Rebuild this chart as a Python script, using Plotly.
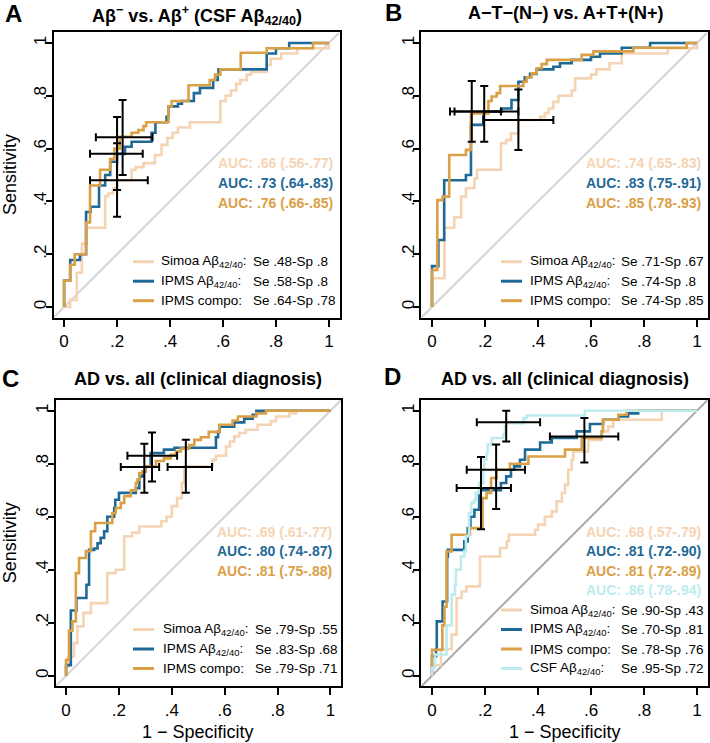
import plotly.graph_objects as go

W, H = 710, 743
FONT = "Liberation Sans, Arial, Helvetica, sans-serif"
C_SIMOA = "#F5D4B4"
C_IPMS = "#1F6996"
C_COMPO = "#DAA046"
C_CSF = "#BEEBEE"

TICK_VALS = [0, 0.2, 0.4, 0.6, 0.8, 1]
TICK_TEXT = ["0", ".2", ".4", ".6", ".8", "1"]

PANEL_TITLES = ["A\u03b2<sup>\u2212</sup> vs. A\u03b2<sup>+</sup> (CSF A\u03b2<sub>42/40</sub>)",
                "A\u2212T\u2212(N\u2212) vs. A+T+(N+)",
                "AD vs. all (clinical diagnosis)",
                "AD vs. all (clinical diagnosis)"]
PANEL_LETTERS = ["A", "B", "C", "D"]

SERIES_NAMES = ["Simoa A\u03b2<sub>42/40</sub>:", "IPMS A\u03b2<sub>42/40</sub>:", "IPMS compo:", "CSF A\u03b2<sub>42/40</sub>:"]

# ---------------- Panel A ----------------
A_SIMOA_FPR = [0, 0, 0.023, 0.048, 0.067, 0.085, 0.155, 0.167, 0.185, 0.2, 0.255, 0.27, 0.30, 0.343, 0.368, 0.39, 0.41, 0.43, 0.475, 0.59, 0.61, 0.63, 0.65, 0.665, 0.69, 0.705, 0.765, 0.78, 0.82, 0.88, 1.0]
A_SIMOA_TPR = [0, 0, 0.027, 0.13, 0.24, 0.30, 0.42, 0.43, 0.45, 0.48, 0.52, 0.53, 0.545, 0.576, 0.614, 0.64, 0.66, 0.68, 0.70, 0.78, 0.80, 0.82, 0.845, 0.86, 0.88, 0.89, 0.917, 0.94, 0.96, 0.98, 1.0]
A_IPMS_FPR = [0, 0, 0.023, 0.06, 0.083, 0.10, 0.132, 0.155, 0.174, 0.20, 0.23, 0.255, 0.33, 0.345, 0.387, 0.394, 0.43, 0.445, 0.49, 0.513, 0.563, 0.58, 0.583, 0.765, 0.80, 0.85, 1.0]
A_IPMS_TPR = [0, 0.10, 0.178, 0.20, 0.36, 0.38, 0.46, 0.50, 0.55, 0.58, 0.607, 0.626, 0.66, 0.70, 0.72, 0.76, 0.77, 0.78, 0.81, 0.83, 0.86, 0.88, 0.90, 0.96, 0.98, 1.0, 1.0]
A_COMPO_FPR = [0, 0, 0.023, 0.04, 0.083, 0.098, 0.136, 0.174, 0.19, 0.21, 0.255, 0.28, 0.30, 0.31, 0.394, 0.406, 0.47, 0.55, 0.57, 0.59, 0.667, 0.765, 0.94, 1.0]
A_COMPO_TPR = [0, 0.10, 0.16, 0.20, 0.32, 0.46, 0.52, 0.56, 0.60, 0.645, 0.66, 0.67, 0.685, 0.70, 0.76, 0.78, 0.84, 0.86, 0.88, 0.90, 0.963, 0.98, 1.0, 1.0]
A_AUC = ["AUC: .66 (.56-.77)", "AUC: .73 (.64-.83)", "AUC: .76 (.66-.85)"]
A_SESP = ["Se .48-Sp .8", "Se .58-Sp .8", "Se .64-Sp .78"]
A_CI_X = [0.20, 0.20, 0.221]
A_CI_Y = [0.48, 0.58, 0.643]
A_CI_XLO = [0.098, 0.098, 0.12]
A_CI_XHI = [0.316, 0.297, 0.334]
A_CI_YLO = [0.342, 0.443, 0.50]
A_CI_YHI = [0.62, 0.72, 0.784]

# ---------------- Panel B ----------------
B_SIMOA_FPR = [0, 0, 0.047, 0.084, 0.11, 0.128, 0.16, 0.17, 0.26, 0.28, 0.298, 0.326, 0.408, 0.426, 0.44, 0.458, 0.477, 0.527, 0.54, 0.60, 0.62, 0.67, 0.716, 0.89, 1.0]
B_SIMOA_TPR = [0, 0.109, 0.30, 0.34, 0.418, 0.45, 0.487, 0.52, 0.62, 0.632, 0.657, 0.708, 0.72, 0.735, 0.752, 0.777, 0.80, 0.82, 0.866, 0.88, 0.90, 0.923, 0.96, 0.98, 1.0]
B_IPMS_FPR = [0, 0, 0.024, 0.046, 0.128, 0.147, 0.194, 0.263, 0.30, 0.326, 0.35, 0.37, 0.395, 0.458, 0.483, 0.527, 0.60, 0.634, 0.716, 0.823, 1.0]
B_IPMS_TPR = [0, 0.155, 0.254, 0.48, 0.50, 0.69, 0.74, 0.752, 0.784, 0.853, 0.87, 0.883, 0.90, 0.91, 0.923, 0.936, 0.948, 0.96, 0.982, 1.0, 1.0]
B_COMPO_FPR = [0, 0, 0.02, 0.04, 0.065, 0.128, 0.147, 0.213, 0.225, 0.244, 0.257, 0.345, 0.357, 0.376, 0.395, 0.414, 0.433, 0.565, 0.609, 0.76, 0.961, 1.0]
B_COMPO_TPR = [0, 0.14, 0.405, 0.418, 0.576, 0.595, 0.733, 0.78, 0.797, 0.81, 0.837, 0.853, 0.87, 0.885, 0.904, 0.92, 0.936, 0.955, 0.968, 0.982, 1.0, 1.0]
B_AUC = ["AUC: .74 (.65-.83)", "AUC: .83 (.75-.91)", "AUC: .85 (.78-.93)"]
B_SESP = ["Se .71-Sp .67", "Se .74-Sp .8", "Se .74-Sp .85"]
B_CI_X = [0.326, 0.197, 0.15]
B_CI_Y = [0.708, 0.74, 0.74]
B_CI_XLO = [0.194, 0.085, 0.068]
B_CI_XHI = [0.458, 0.326, 0.26]
B_CI_YLO = [0.595, 0.626, 0.626]
B_CI_YHI = [0.824, 0.837, 0.856]

# ---------------- Panel C ----------------
C_SIMOA_FPR = [0, 0, 0.008, 0.03, 0.043, 0.066, 0.094, 0.156, 0.188, 0.22, 0.25, 0.277, 0.36, 0.38, 0.40, 0.42, 0.438, 0.447, 0.554, 0.567, 0.605, 0.62, 0.636, 0.655, 0.68, 0.725, 0.775, 0.794, 0.845, 0.87, 1.0]
C_SIMOA_TPR = [0, 0.035, 0.073, 0.123, 0.186, 0.237, 0.274, 0.387, 0.40, 0.526, 0.54, 0.563, 0.583, 0.60, 0.64, 0.67, 0.727, 0.79, 0.815, 0.83, 0.865, 0.884, 0.903, 0.916, 0.928, 0.947, 0.96, 0.978, 0.99, 1.0, 1.0]
C_IPMS_FPR = [0, 0, 0.018, 0.039, 0.077, 0.087, 0.106, 0.119, 0.131, 0.144, 0.156, 0.182, 0.186, 0.2, 0.264, 0.277, 0.29, 0.30, 0.32, 0.37, 0.41, 0.567, 0.575, 0.58, 0.636, 0.674, 0.706, 0.72, 1.0]
C_IPMS_TPR = [0, 0.04, 0.246, 0.293, 0.343, 0.475, 0.48, 0.50, 0.52, 0.545, 0.60, 0.633, 0.664, 0.69, 0.708, 0.752, 0.77, 0.79, 0.84, 0.853, 0.86, 0.90, 0.92, 0.94, 0.956, 0.97, 0.985, 1.0, 1.0]
C_COMPO_FPR = [0, 0, 0.011, 0.024, 0.037, 0.049, 0.075, 0.094, 0.11, 0.175, 0.188, 0.207, 0.22, 0.245, 0.264, 0.27, 0.277, 0.29, 0.30, 0.34, 0.37, 0.396, 0.415, 0.434, 0.466, 0.485, 0.51, 0.54, 0.58, 0.63, 0.65, 0.72, 0.756, 1.0]
C_COMPO_TPR = [0, 0.06, 0.17, 0.205, 0.387, 0.444, 0.47, 0.545, 0.576, 0.614, 0.633, 0.652, 0.677, 0.70, 0.727, 0.74, 0.765, 0.77, 0.79, 0.81, 0.82, 0.834, 0.846, 0.857, 0.87, 0.89, 0.90, 0.92, 0.947, 0.963, 0.978, 0.99, 1.0, 1.0]
C_AUC = ["AUC: .69 (.61-.77)", "AUC: .80 (.74-.87)", "AUC: .81 (.75-.88)"]
C_SESP = ["Se .79-Sp .55", "Se .83-Sp .68", "Se .79-Sp .71"]
C_CI_X = [0.453, 0.325, 0.296]
C_CI_Y = [0.788, 0.83, 0.788]
C_CI_XLO = [0.384, 0.232, 0.207]
C_CI_XHI = [0.552, 0.42, 0.352]
C_CI_YLO = [0.69, 0.733, 0.69]
C_CI_YHI = [0.89, 0.918, 0.875]

# ---------------- Panel D ----------------
D_SIMOA_FPR = [0, 0, 0.011, 0.034, 0.074, 0.093, 0.112, 0.13, 0.181, 0.257, 0.282, 0.29, 0.389, 0.40, 0.426, 0.452, 0.47, 0.49, 0.502, 0.514, 0.527, 0.533, 0.59, 0.64, 0.665, 0.684, 0.867, 1.0]
D_SIMOA_TPR = [0, 0.035, 0.04, 0.10, 0.155, 0.293, 0.318, 0.337, 0.45, 0.482, 0.507, 0.532, 0.551, 0.57, 0.60, 0.62, 0.658, 0.69, 0.72, 0.777, 0.815, 0.846, 0.89, 0.922, 0.94, 0.966, 1.0, 1.0]
D_IPMS_FPR = [0, 0, 0.015, 0.018, 0.04, 0.057, 0.06, 0.122, 0.135, 0.145, 0.16, 0.178, 0.26, 0.28, 0.298, 0.31, 0.332, 0.351, 0.408, 0.452, 0.546, 0.596, 0.646, 0.703, 0.74, 0.778, 1.0]
D_IPMS_TPR = [0, 0.073, 0.098, 0.205, 0.28, 0.45, 0.475, 0.507, 0.557, 0.60, 0.626, 0.70, 0.727, 0.752, 0.777, 0.79, 0.815, 0.853, 0.88, 0.897, 0.922, 0.95, 0.966, 0.978, 0.99, 1.0, 1.0]
D_COMPO_FPR = [0, 0, 0.039, 0.047, 0.055, 0.074, 0.143, 0.191, 0.206, 0.223, 0.244, 0.294, 0.364, 0.502, 0.565, 0.64, 0.645, 0.703, 0.735, 1.0]
D_COMPO_TPR = [0, 0.098, 0.19, 0.26, 0.469, 0.532, 0.557, 0.67, 0.69, 0.746, 0.777, 0.80, 0.827, 0.853, 0.897, 0.922, 0.966, 0.985, 1.0, 1.0]
D_CSF_FPR = [0, 0, 0.011, 0.055, 0.074, 0.087, 0.09, 0.109, 0.122, 0.128, 0.14, 0.148, 0.16, 0.165, 0.178, 0.194, 0.197, 0.206, 0.21, 0.225, 0.269, 0.275, 0.28, 0.345, 0.357, 0.577, 1.0]
D_CSF_TPR = [0, 0.03, 0.08, 0.19, 0.306, 0.343, 0.40, 0.45, 0.47, 0.526, 0.614, 0.652, 0.664, 0.69, 0.727, 0.777, 0.815, 0.84, 0.872, 0.897, 0.91, 0.94, 0.953, 0.972, 0.982, 1.0, 1.0]
D_AUC = ["AUC: .68 (.57-.79)", "AUC: .81 (.72-.90)", "AUC: .81 (.72-.89)", "AUC: .86 (.78-.94)"]
D_SESP = ["Se .90-Sp .43", "Se .70-Sp .81", "Se .78-Sp .76", "Se .95-Sp .72"]
D_CI_X = [0.575, 0.185, 0.242, 0.28]
D_CI_Y = [0.903, 0.708, 0.777, 0.956]
D_CI_XLO = [0.445, 0.093, 0.131, 0.169]
D_CI_XHI = [0.703, 0.298, 0.351, 0.408]
D_CI_YLO = [0.805, 0.553, 0.629, 0.884]
D_CI_YHI = [0.972, 0.825, 0.872, 1.0]

COLORS = [C_SIMOA, C_IPMS, C_COMPO, C_CSF]

panels = [
    dict(curves=[(A_SIMOA_FPR, A_SIMOA_TPR), (A_IPMS_FPR, A_IPMS_TPR), (A_COMPO_FPR, A_COMPO_TPR)],
         auc=A_AUC, sesp=A_SESP, ci=(A_CI_X, A_CI_Y, A_CI_XLO, A_CI_XHI, A_CI_YLO, A_CI_YHI)),
    dict(curves=[(B_SIMOA_FPR, B_SIMOA_TPR), (B_IPMS_FPR, B_IPMS_TPR), (B_COMPO_FPR, B_COMPO_TPR)],
         auc=B_AUC, sesp=B_SESP, ci=(B_CI_X, B_CI_Y, B_CI_XLO, B_CI_XHI, B_CI_YLO, B_CI_YHI)),
    dict(curves=[(C_SIMOA_FPR, C_SIMOA_TPR), (C_IPMS_FPR, C_IPMS_TPR), (C_COMPO_FPR, C_COMPO_TPR)],
         auc=C_AUC, sesp=C_SESP, ci=(C_CI_X, C_CI_Y, C_CI_XLO, C_CI_XHI, C_CI_YLO, C_CI_YHI)),
    dict(curves=[(D_SIMOA_FPR, D_SIMOA_TPR), (D_IPMS_FPR, D_IPMS_TPR), (D_COMPO_FPR, D_COMPO_TPR), (D_CSF_FPR, D_CSF_TPR)],
         auc=D_AUC, sesp=D_SESP, ci=(D_CI_X, D_CI_Y, D_CI_XLO, D_CI_XHI, D_CI_YLO, D_CI_YHI)),
]

# layout geometry in pixels (box left, box right, box top, box bottom)
BOXES = [(53.5, 339.5, 32.4, 317.6), (421.4, 707.6, 32.4, 317.6),
         (55.5, 341.0, 400.1, 686.3), (421.4, 707.6, 400.1, 686.3)]
TITLE_POS = [(196.5, 15), (565, 13), (198, 379), (565, 379)]
LETTER_POS = [(13, 14), (393, 12), (10, 378), (392, 377)]
AUC_RIGHT = [335, 703, 334, 703]
AUC_Y0 = [163.5, 163.5, 531.5, 531.5]
LEG_Y0 = [261.7, 261.7, 629.5, 610.0]
LEG_LINE_X = [(133, 154), (501, 522), (133, 154), (501, 522)]
LEG_TEXT_X = [159, 528, 161, 528]
LEG_SE_X = [251, 619, 253, 619]
ROW_H = 19.5
TXT = 14


def px_x(p):
    return p / W


def px_y(p):
    return 1 - p / H


fig = go.Figure()
annotations = []
shapes = []

for i, pan in enumerate(panels):
    k = "" if i == 0 else str(i + 1)
    xa, ya = "x" + k, "y" + k
    l, r, t, b = BOXES[i]
    fig.update_layout(**{
        "xaxis" + k: dict(domain=[px_x(l), px_x(r)], range=[-0.04, 1.04], anchor=ya,
                          showline=True, mirror=True, linecolor="black", linewidth=2,
                          ticks="outside", ticklen=7, tickwidth=2, tickcolor="black",
                          tickvals=TICK_VALS, ticktext=TICK_TEXT, showgrid=False, zeroline=False,
                          tickfont=dict(family=FONT, size=17, color="black"), fixedrange=True),
        "yaxis" + k: dict(domain=[px_y(b), px_y(t)], range=[-0.04, 1.04], anchor=xa,
                          showline=True, mirror=True, linecolor="black", linewidth=2,
                          ticks="outside", ticklen=6, tickwidth=2, tickcolor="black",
                          tickvals=TICK_VALS, ticktext=TICK_TEXT, showgrid=False, zeroline=False,
                          tickangle=-90, ticklabelstandoff=-7,
                          tickfont=dict(family=FONT, size=17, color="black"), fixedrange=True),
    })
    # diagonal reference
    shapes.append(dict(type="line", xref=xa, yref=ya, x0=-0.04, y0=-0.04, x1=1.04, y1=1.04,
                       line=dict(color="#A9A9A9" if i == 3 else "#D3D3D3", width=2), layer="below"))
    # ROC curves
    for j, (fx, ty) in enumerate(pan["curves"]):
        fig.add_trace(go.Scatter(x=fx, y=ty, mode="lines", line=dict(color=COLORS[j], width=2.6, shape="hv"),
                                 xaxis=xa, yaxis=ya, showlegend=False, hoverinfo="skip"))
    # confidence crosses
    cx, cy, xlo, xhi, ylo, yhi = pan["ci"]
    fig.add_trace(go.Scatter(
        x=cx, y=cy, mode="markers", marker=dict(size=2, color="black"),
        error_x=dict(type="data", symmetric=False,
                     array=[h - c for h, c in zip(xhi, cx)], arrayminus=[c - lo for c, lo in zip(cx, xlo)],
                     color="black", thickness=2, width=4),
        error_y=dict(type="data", symmetric=False,
                     array=[h - c for h, c in zip(yhi, cy)], arrayminus=[c - lo for c, lo in zip(cy, ylo)],
                     color="black", thickness=2, width=4),
        xaxis=xa, yaxis=ya, showlegend=False, hoverinfo="skip"))

    # title and letter
    tx, ty_ = TITLE_POS[i]
    annotations.append(dict(text="<b>" + PANEL_TITLES[i] + "</b>", x=px_x(tx), y=px_y(ty_), xref="paper", yref="paper",
                            xanchor="center", yanchor="middle", showarrow=False,
                            font=dict(family=FONT, size=18, color="black")))
    lx, ly = LETTER_POS[i]
    annotations.append(dict(text="<b>" + PANEL_LETTERS[i] + "</b>", x=px_x(lx), y=px_y(ly), xref="paper", yref="paper",
                            xanchor="center", yanchor="middle", showarrow=False,
                            font=dict(family=FONT, size=24, color="black")))
    # AUC labels
    for j, txt in enumerate(pan["auc"]):
        annotations.append(dict(text="<b>" + txt + "</b>", x=px_x(AUC_RIGHT[i]), y=px_y(AUC_Y0[i] + j * ROW_H),
                                xref="paper", yref="paper", xanchor="right", yanchor="middle", showarrow=False,
                                font=dict(family=FONT, size=TXT, color=COLORS[j])))
    # legend
    for j, txt in enumerate(pan["sesp"]):
        yy = LEG_Y0[i] + j * ROW_H
        x1, x2 = LEG_LINE_X[i]
        shapes.append(dict(type="line", xref="paper", yref="paper", x0=px_x(x1), x1=px_x(x2),
                           y0=px_y(yy), y1=px_y(yy), line=dict(color=COLORS[j], width=3)))
        annotations.append(dict(text=SERIES_NAMES[j], x=px_x(LEG_TEXT_X[i]), y=px_y(yy), xref="paper", yref="paper",
                                xanchor="left", yanchor="middle", showarrow=False,
                                font=dict(family=FONT, size=13.5, color="black")))
        annotations.append(dict(text=txt, x=px_x(LEG_SE_X[i]), y=px_y(yy), xref="paper", yref="paper",
                                xanchor="left", yanchor="middle", showarrow=False,
                                font=dict(family=FONT, size=13.5, color="black")))

# axis titles
for yc in [(32.4 + 317.6) / 2, (400.1 + 686.3) / 2]:
    annotations.append(dict(text="Sensitivity", x=px_x(10), y=px_y(yc), xref="paper", yref="paper",
                            xanchor="center", yanchor="middle", textangle=-90, showarrow=False,
                            font=dict(family=FONT, size=18, color="black")))
for xc in [(55.5 + 341.0) / 2, (421.4 + 707.6) / 2]:
    annotations.append(dict(text="1 \u2212 Specificity", x=px_x(xc), y=px_y(732), xref="paper", yref="paper",
                            xanchor="center", yanchor="middle", showarrow=False,
                            font=dict(family=FONT, size=18, color="black")))

fig.update_layout(width=W, height=H, autosize=False, margin=dict(l=0, r=0, t=0, b=0),
                  paper_bgcolor="white", plot_bgcolor="white", showlegend=False,
                  annotations=annotations, shapes=shapes, font=dict(family=FONT))

fig.write_html("out.html", config={"displayModeBar": False, "staticPlot": True},
               post_script="document.body.style.margin='0px';document.body.style.overflow='hidden';")
